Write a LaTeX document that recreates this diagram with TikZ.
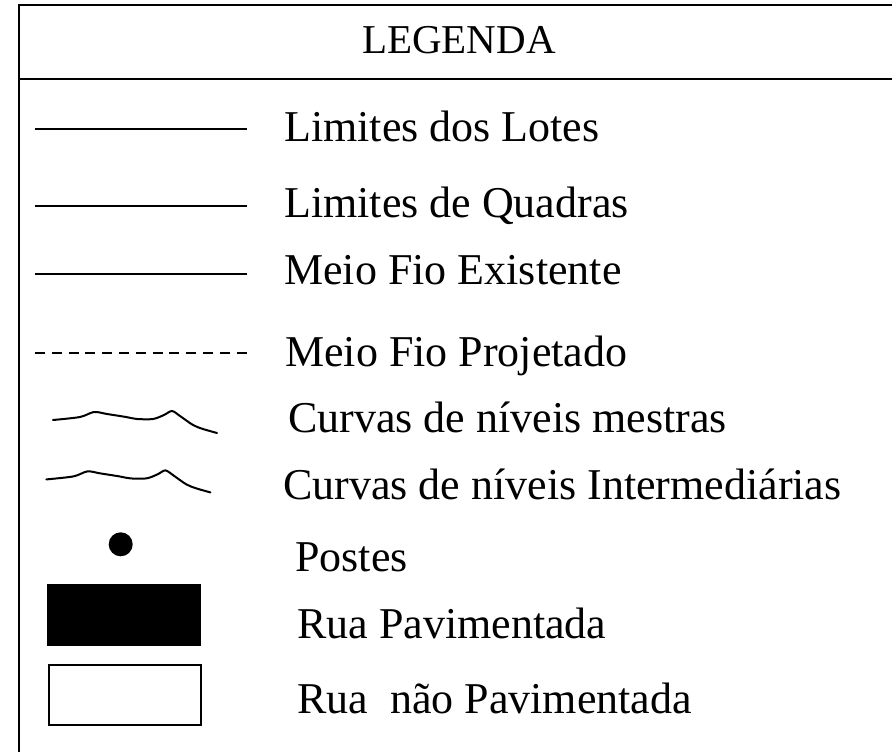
\documentclass[tikz,border=0pt]{standalone}
\usepackage{fontspec}
\setmainfont{Liberation Serif}

\begin{document}
\begin{tikzpicture}[x=1pt, y=-1pt,
    rotulo/.style={anchor=base west, inner sep=0pt, font=\fontsize{44}{50}\selectfont},
    moldura/.style={line width=1.8pt},
    traco/.style={line width=2.2pt},
    tracejado/.style={line width=2.2pt, dash pattern=on 10pt off 6.8pt},
    curva/.style={line width=2pt, line cap=round, line join=round},
    poste/.style={circle, fill=black, inner sep=0pt, minimum size=24pt},
    rua/.style={draw, line width=2pt, inner sep=0pt, minimum width=152pt, minimum height=60pt}]
    \useasboundingbox (0,0) rectangle (892,752);

    % Frame (open on the right and bottom)
    \draw[moldura] (19,760) -- (19,5) -- (900,5);
    \draw[moldura] (19,79) -- (900,79);
    \node[anchor=base, inner sep=0pt, font=\fontsize{41}{46}\selectfont] (titulo) at (459,54) {LEGENDA};

    % Line samples
    \coordinate (lotesA) at (35,129);
    \coordinate (lotesB) at (247,129);
    \coordinate (quadrasA) at (35,206);
    \coordinate (quadrasB) at (247,206);
    \coordinate (existA) at (35,274);
    \coordinate (existB) at (247,274);
    \coordinate (projA) at (35,353);
    \coordinate (projB) at (247,353);

    \draw[traco] (lotesA) -- (lotesB);
    \draw[traco] (quadrasA) -- (quadrasB);
    \draw[traco] (existA) -- (existB);
    \draw[tracejado] (projA) -- (projB);

    % Contour lines
    \draw[curva] plot[smooth, tension=0.5] coordinates {(53,420) (80,417) (94,412) (107,414) (126,417) (137,419) (153,419) (164,415) (172,411) (180,416) (193,425) (203,429) (217,433)};
    \draw[curva, shift={(-6.6,59.4)}] plot[smooth, tension=0.5] coordinates {(53,420) (80,417) (94,412) (107,414) (126,417) (137,419) (153,419) (164,415) (172,411) (180,416) (193,425) (203,429) (217,433)};

    % Symbols
    \node[poste] (postes) at (120.7,544.3) {};
    \node[rua, fill=black] (pav) at (123.7,615) {};
    \node[rua, fill=white] (naopav) at (124.7,694.5) {};

    % Labels
    \node[rotulo] (t1) at (284,141) {Limites dos Lotes};
    \node[rotulo] (t2) at (284,217) {Limites de Quadras};
    \node[rotulo] (t3) at (284,284) {Meio Fio Existente};
    \node[rotulo] (t4) at (285,366) {Meio Fio Projetado};
    \node[rotulo] (t5) at (288,432) {Curvas de níveis mestras};
    \node[rotulo] (t6) at (283,499) {Curvas de níveis Intermediárias};
    \node[rotulo] (t7) at (295,571) {Postes};
    \node[rotulo] (t8) at (297,638) {Rua Pavimentada};
    \node[rotulo] (t9) at (297,713) {Rua\ \ não Pavimentada};
\end{tikzpicture}
\end{document}
